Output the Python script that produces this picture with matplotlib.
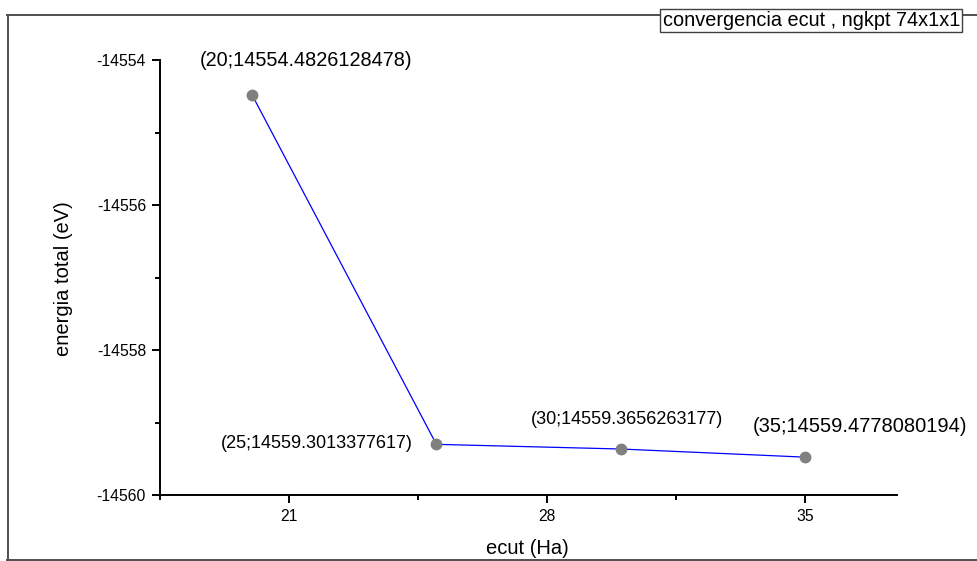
import matplotlib
matplotlib.use("Agg")
import matplotlib.pyplot as plt
from matplotlib.lines import Line2D
from matplotlib.ticker import MultipleLocator

ecut = [20, 25, 30, 35]
energy = [-14554.4826128478, -14559.3013377617, -14559.3656263177, -14559.4778080194]
point_labels = ["(20;14554.4826128478)", "(25;14559.3013377617)",
                "(30;14559.3656263177)", "(35;14559.4778080194)"]
x_ticks = [21, 28, 35]
y_ticks = [-14554, -14556, -14558, -14560]
title = "convergencia ecut , ngkpt 74x1x1"

plt.rcParams['font.family'] = ['Liberation Sans', 'DejaVu Sans']

W, H = 977, 561
fig = plt.figure(figsize=(W / 100, H / 100), dpi=100)
ax = fig.add_axes([160 / W, 1 - 495 / H, (897 - 160) / W, (495 - 60) / H])

ax.plot(ecut, energy, color='#0000ff', lw=0.9, zorder=2)
ax.plot(ecut, energy, 'o', color='#808080', ms=7.5, mec='#808080', zorder=3)

ax.set_xlim(17.5, 37.5)
ax.set_ylim(-14560, -14554)
ax.set_xticks(x_ticks)
ax.set_yticks(y_ticks)
ax.set_yticklabels([str(v) for v in y_ticks])
ax.xaxis.set_minor_locator(MultipleLocator(3.5))
ax.yaxis.set_minor_locator(MultipleLocator(1))

for s in ['top', 'right']:
    ax.spines[s].set_visible(False)
for s in ['left', 'bottom']:
    ax.spines[s].set_linewidth(1.4)
    ax.spines[s].set_color('black')

ax.tick_params(which='major', direction='out', length=6, width=1.4, labelsize=11.3, pad=4)
ax.tick_params(which='minor', direction='out', length=3.5, width=1.4)

ax.set_xlabel("ecut (Ha)", fontsize=14.5)
ax.set_ylabel("energia total (eV)", fontsize=14.5)
ax.xaxis.set_label_coords((527 - 160) / (897 - 160), -(539 - 495) / (495 - 60))
ax.yaxis.set_label_coords(-(160 - 73) / (897 - 160), (495 - 279) / (495 - 60))

offsets = [(39, 25), (-17, 0.5), (4.3, 21.6), (39.6, 22.3)]
has = ['center', 'right', 'center', 'center']
sizes = [14.3, 13, 13, 14.5]
for x, y, lab, off, ha, fs in zip(ecut, energy, point_labels, offsets, has, sizes):
    ax.annotate(lab, (x, y), xytext=off, textcoords='offset points',
                ha=ha, va='center', fontsize=fs, color='black')

# outer frame
fc = '#505050'
fig.add_artist(Line2D([7.5 / W, 7.5 / W], [1 - 14.5 / H, 1 - 559.5 / H], color=fc, lw=1.4, transform=fig.transFigure))
fig.add_artist(Line2D([7 / W, 1.0], [1 - 14.5 / H, 1 - 14.5 / H], color=fc, lw=1.4, transform=fig.transFigure))
fig.add_artist(Line2D([7 / W, 1.0], [1 - 559.5 / H, 1 - 559.5 / H], color=fc, lw=1.4, transform=fig.transFigure))

fig.text(960 / W, 1 - 20.5 / H, title, ha='right', va='center', fontsize=14.3,
         bbox=dict(boxstyle='square,pad=0.12', fc='white', ec='#404040', lw=1.0))

fig.savefig("out.png", dpi=100)
